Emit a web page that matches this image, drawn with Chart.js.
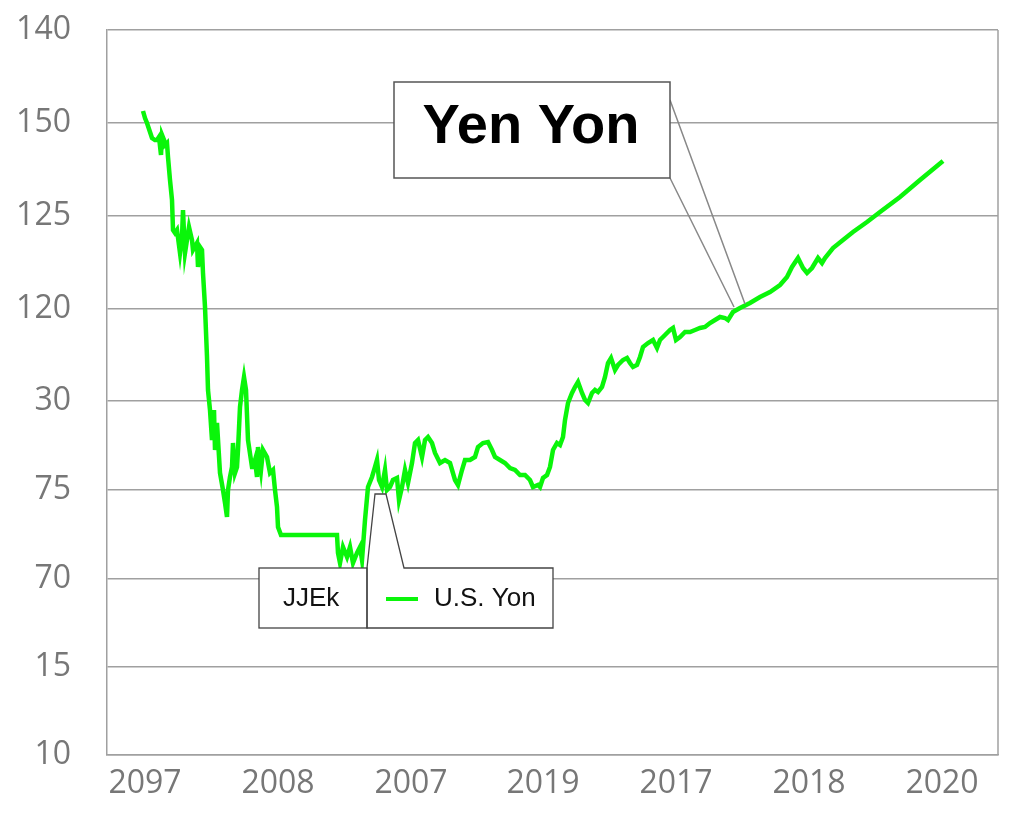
<!DOCTYPE html>
<html>
<head>
<meta charset="utf-8">
<script src="https://cdn.jsdelivr.net/npm/chart.js@4.4.1/dist/chart.umd.min.js"></script>
<style>
  html, body { margin: 0; padding: 0; background: #fff; }
  #wrap { width: 1024px; height: 820px; }
</style>
</head>
<body>
<div id="wrap"><canvas id="yenChart" width="1024" height="820"></canvas></div>
<script>
// Axis ticks (positions in axis units, labels as printed on the chart)
const xTickValues = [0, 133, 266, 398, 531, 664, 797];
const xTickLabels = ['2097', '2008', '2007', '2019', '2017', '2018', '2020'];
const yTickValues = [0, 88, 176, 265, 354, 446, 539, 632, 725];
const yTickLabels = ['10', '15', '70', '75', '30', '120', '125', '150', '140'];

const seriesLabel = 'U.S. Yon';
const titleText = 'Yen Yon';
const boxText = 'JJEk';

// Series (x in axis units, y in axis units)
const xVals = [
  -2, 0, 2, 5, 7, 10, 12, 14, 16, 17, 19, 20, 22, 23, 25, 27, 28, 30, 32, 35,
  37, 38, 39, 40, 42, 44, 47, 48, 52, 53, 55, 57, 58, 60, 62, 63, 65, 67, 69, 70,
  72, 75, 78, 80, 82, 83, 85, 87, 88, 90, 92, 93, 95, 97, 99, 101, 103, 107, 108, 110,
  112, 113, 116, 118, 122, 125, 128, 130, 132, 133, 136, 155, 192, 193, 195, 198, 202, 205, 208, 212,
  215, 217, 220, 223, 227, 230, 232, 234, 237, 240, 242, 245, 248, 252, 254, 257, 260, 263, 267, 270,
  273, 277, 280, 283, 287, 290, 295, 300, 305, 310, 313, 317, 320, 325, 330, 333, 338, 343, 347, 350,
  355, 360, 365, 370, 375, 380, 385, 388, 393, 395, 398, 402, 405, 408, 412, 415, 418, 420, 423, 427,
  430, 433, 437, 440, 443, 447, 450, 453, 457, 460, 463, 466, 470, 473, 478, 482, 485, 488, 492, 495,
  498, 503, 508, 512, 515, 520, 525, 528, 531, 535, 540, 545, 550, 555, 560, 565, 570, 575, 580, 583,
  588, 595, 605, 615, 625, 635, 642, 647, 653, 658, 662, 667, 673, 677, 680, 688, 698, 708, 722, 735,
  755, 775, 798
];
const yVals = [
  644, 637, 632, 623, 617, 615, 615, 618, 600, 620, 615, 610, 612, 598, 575, 555, 525, 522, 525, 502,
  518, 545, 522, 502, 515, 528, 515, 505, 512, 488, 508, 505, 482, 448, 398, 365, 345, 315, 345, 305,
  332, 282, 265, 252, 238, 265, 278, 288, 312, 282, 288, 305, 348, 365, 378, 365, 315, 288, 288, 295,
  278, 308, 285, 305, 298, 282, 285, 265, 248, 228, 220, 220, 220, 202, 192, 208, 198, 208, 192, 202,
  208, 195, 235, 268, 278, 288, 295, 275, 268, 285, 265, 268, 275, 277, 255, 268, 285, 272, 292, 312,
  315, 298, 315, 318, 312, 302, 292, 295, 292, 275, 270, 285, 295, 295, 298, 308, 312, 313, 305, 298,
  295, 292, 287, 285, 280, 280, 275, 268, 270, 268, 277, 280, 288, 305, 312, 310, 318, 335, 352, 362,
  368, 373, 362, 355, 352, 362, 365, 363, 368, 378, 392, 397, 385, 390, 395, 397, 392, 388, 390, 398,
  408, 412, 415, 407, 415, 420, 425, 427, 415, 418, 423, 423, 425, 427, 428, 432, 435, 438, 437, 435,
  443, 447, 452, 458, 463, 470, 478, 488, 497, 487, 482, 487, 497, 492, 497, 507, 515, 523, 533, 543,
  558, 575, 594
];

const points = xVals.map((x, i) => ({ x: x, y: yVals[i] }));

const GREEN = '#0af50a';
const TICK_FONT = { family: '"Open Sans", sans-serif', size: 32 };

// Boxes and callouts drawn on top of the plot
const calloutPlugin = {
  id: 'callouts',
  beforeDatasetsDraw(chart) {
    // right border of the plot frame
    const { ctx, chartArea } = chart;
    ctx.save();
    ctx.strokeStyle = '#a0a0a0';
    ctx.lineWidth = 1.5;
    ctx.beginPath();
    ctx.moveTo(chartArea.right, chartArea.top);
    ctx.lineTo(chartArea.right, chartArea.bottom);
    ctx.stroke();
    ctx.restore();
  },
  afterDatasetsDraw(chart) {
    const { ctx } = chart;
    const xs = chart.scales.x, ys = chart.scales.y;
    ctx.save();

    // title box with pointer
    const tipX = xs.getPixelForValue(595), tipY = ys.getPixelForValue(450);
    ctx.strokeStyle = '#888';
    ctx.lineWidth = 1.5;
    ctx.beginPath();
    ctx.moveTo(670, 100); ctx.lineTo(tipX + 5, tipY - 1);
    ctx.moveTo(670, 178); ctx.lineTo(tipX - 6, tipY + 2);
    ctx.stroke();
    ctx.fillStyle = '#fff';
    ctx.fillRect(394, 82, 276, 96);
    ctx.strokeStyle = '#555';
    ctx.strokeRect(394, 82, 276, 96);
    ctx.fillStyle = '#000';
    ctx.font = 'bold 56px "Liberation Sans", Arial, sans-serif';
    ctx.textAlign = 'center';
    ctx.textBaseline = 'middle';
    ctx.fillText(titleText, 531, 128);

    // legend boxes
    const lx = xs.getPixelForValue(230), lx2 = xs.getPixelForValue(241);
    const ly = ys.getPixelForValue(261);
    ctx.fillStyle = '#fff';
    ctx.fillRect(259, 568, 108, 60);
    ctx.beginPath();
    ctx.moveTo(367, 568); ctx.lineTo(lx, ly); ctx.lineTo(lx2, ly); ctx.lineTo(404, 568);
    ctx.lineTo(553, 568); ctx.lineTo(553, 628); ctx.lineTo(367, 628); ctx.closePath();
    ctx.fill();
    ctx.strokeStyle = '#444';
    ctx.lineWidth = 1.3;
    ctx.stroke();
    ctx.strokeRect(259, 568, 108, 60);

    ctx.fillStyle = '#111';
    ctx.font = '26px "Liberation Sans", Arial, sans-serif';
    ctx.textAlign = 'left';
    ctx.fillText(boxText, 283, 599);
    ctx.fillText(chart.data.datasets[0].label, 434, 599);

    ctx.strokeStyle = chart.data.datasets[0].borderColor;
    ctx.lineWidth = 4;
    ctx.beginPath();
    ctx.moveTo(386, 599); ctx.lineTo(418, 599);
    ctx.stroke();
    ctx.restore();
  }
};

const ctx = document.getElementById('yenChart').getContext('2d');
new Chart(ctx, {
  type: 'line',
  data: {
    datasets: [{
      label: seriesLabel,
      data: points,
      borderColor: GREEN,
      borderWidth: 4.5,
      pointRadius: 0,
      tension: 0,
      fill: false
    }]
  },
  options: {
    responsive: false,
    animation: false,
    layout: { autoPadding: false, padding: { left: 0, right: 26, top: 30, bottom: 0 } },
    plugins: {
      legend: { display: false },
      tooltip: { enabled: false }
    },
    scales: {
      x: {
        type: 'linear',
        min: -38,
        max: 853,
        afterBuildTicks: (scale) => { scale.ticks = xTickValues.map(v => ({ value: v })); },
        afterFit: (scale) => { scale.height = 65; },
        grid: { display: false, drawTicks: false },
        border: { display: true, color: '#a0a0a0', width: 1.5 },
        ticks: {
          autoSkip: false,
          maxRotation: 0,
          padding: 10,
          color: '#777',
          font: TICK_FONT,
          callback: (v) => xTickLabels[xTickValues.indexOf(v)]
        }
      },
      y: {
        type: 'linear',
        min: 0,
        max: 725,
        afterBuildTicks: (scale) => { scale.ticks = yTickValues.map(v => ({ value: v })); },
        afterFit: (scale) => { scale.width = 107; scale.paddingTop = 0; scale.paddingBottom = 0; },
        grid: { color: '#a0a0a0', lineWidth: 1.5, drawTicks: false },
        border: { display: true, color: '#a0a0a0', width: 1.5 },
        ticks: {
          autoSkip: false,
          padding: 36,
          color: '#777',
          font: TICK_FONT,
          callback: (v) => yTickLabels[yTickValues.indexOf(v)]
        }
      }
    }
  },
  plugins: [calloutPlugin]
});
</script>
</body>
</html>
